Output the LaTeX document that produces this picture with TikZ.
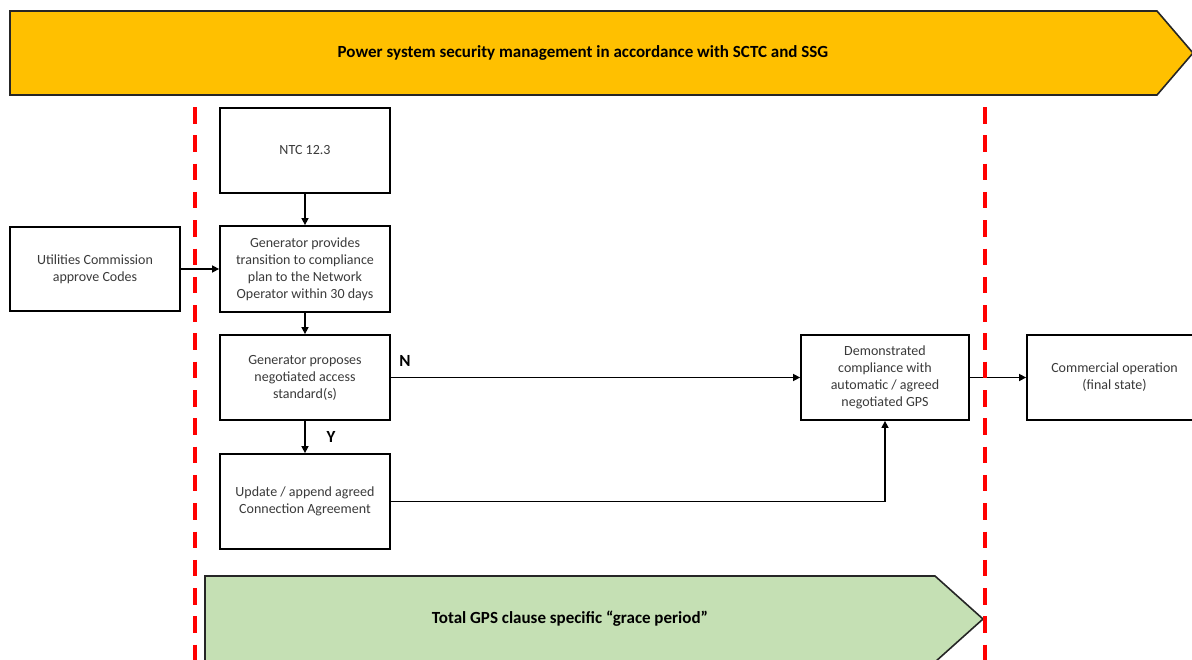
\documentclass[tikz,border=0pt]{standalone}
\usepackage{fontspec}
\setmainfont{Carlito}
\usetikzlibrary{arrows.meta}
\definecolor{ambar}{HTML}{FFC000}
\definecolor{lgreen}{HTML}{C5E0B4}
\definecolor{txtgrey}{HTML}{3A3A3A}
\definecolor{dashred}{HTML}{FF0000}
\tikzset{
  box/.style={draw=black, line width=1.8pt, fill=white, text=txtgrey, align=center,
    font=\fontsize{14}{17}\selectfont, inner sep=0pt},
  conn/.style={line width=1.5pt, draw=black, -{Triangle[length=7pt,width=7pt]}},
  lbl/.style={font=\bfseries\fontsize{17}{19}\selectfont, text=black, inner sep=0pt},
  banner/.style={draw=black!85, line width=1.6pt},
  redline/.style={draw=dashred, line width=3.6pt, dash pattern=on 16.5pt off 11.8pt}
}
\begin{document}
\begin{tikzpicture}[x=1pt,y=-1pt]
\useasboundingbox (0,0) rectangle (1192,659);
\clip (0,0) rectangle (1192,659);
% top banner
\draw[banner, fill=ambar] (10,11) -- (1157,11) -- (1193,53) -- (1157,95) -- (10,95) -- cycle;
\node[lbl] (title) at (583,53) {Power system security management in accordance with SCTC and SSG};
% bottom banner
\draw[banner, fill=lgreen] (205,576) -- (935,576) -- (983,619) -- (935,662) -- (205,662) -- cycle;
\node[lbl] (grace) at (570,619) {Total GPS clause specific “grace period”};
% boxes
\node[box, minimum width=170pt, minimum height=85pt] (ntc) at (305,150.5) {NTC 12.3};
\node[box, minimum width=170pt, minimum height=86pt] (prov) at (305,269) {Generator provides\\transition to compliance\\plan to the Network\\Operator within 30 days};
\node[box, minimum width=170pt, minimum height=84pt] (util) at (95,269) {Utilities Commission\\approve Codes};
\node[box, minimum width=170pt, minimum height=85pt] (prop) at (305,377.5) {Generator proposes\\negotiated access\\standard(s)};
\node[box, minimum width=170pt, minimum height=95pt] (upd) at (305,501.5) {Update / append agreed\\Connection Agreement};
\node[box, minimum width=168pt, minimum height=85pt] (demo) at (885,377.5) {Demonstrated\\compliance with\\automatic / agreed\\negotiated GPS};
\node[box, minimum width=175pt, minimum height=85pt] (comm) at (1114.5,377.5) {Commercial operation\\(final state)};
% connectors
\draw[conn] (ntc) -- (prov);
\draw[conn] (util) -- (prov);
\draw[conn] (prov) -- (prop);
\draw[conn] (prop) -- (upd);
\draw[conn] (prop) -- (demo);
\draw[conn] (upd.east) -| (demo.south);
\draw[conn] (demo) -- (comm.west);
% labels
\node[lbl] (nlab) at (405,361) {N};
\node[lbl] (ylab) at (331,437) {Y};
% red dashed boundaries
\coordinate (r1t) at (195,107);
\coordinate (r1b) at (195,665);
\coordinate (r2t) at (985,107);
\coordinate (r2b) at (985,665);
\draw[redline] (r1t) -- (r1b);
\draw[redline] (r2t) -- (r2b);
\end{tikzpicture}
\end{document}
